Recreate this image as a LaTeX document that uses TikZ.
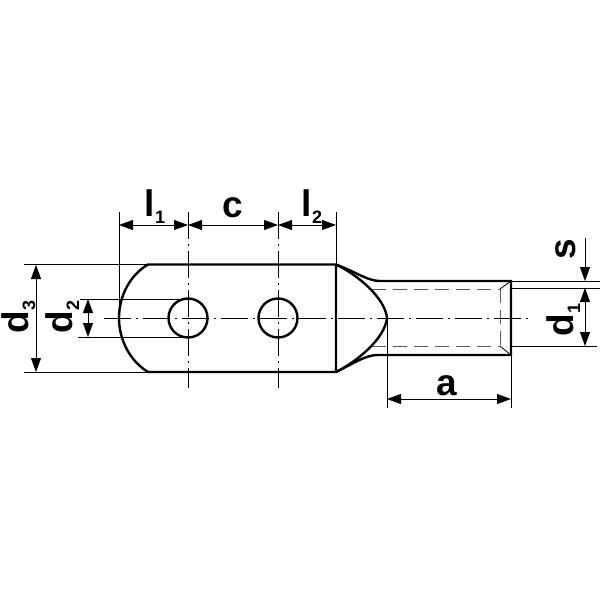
\documentclass[tikz,border=0pt]{standalone}
\usepackage{fontspec}
\setmainfont{Liberation Sans}
\usetikzlibrary{
    arrows.meta,
    calc
}
\newcommand{\lblsub}[1]{\raisebox{-7pt}{\fontsize{18}{18}\selectfont #1}}
\tikzset{
    outline/.style={line width=2.4pt, black},
    thinline/.style={line width=0.8pt, black},
    hidden/.style={line width=0.9pt, black!65, dash pattern=on 14pt off 7pt},
    axisline/.style={line width=0.7pt, black, dash pattern=on 27pt off 5pt on 2pt off 5pt},
    dimline/.style={line width=0.8pt, black, {Triangle[length=14pt,width=10pt]}-{Triangle[length=14pt,width=10pt]}},
    lbl/.style={inner sep=0pt, anchor=base, font=\fontsize{37}{37}\selectfont\bfseries}
}
\begin{document}
\begin{tikzpicture}[x=1pt, y=-1pt]
    \useasboundingbox (0, 0) rectangle (600, 600);

    % centre points
    \coordinate (h1) at (188, 318);
    \coordinate (h2) at (278, 318);
    \coordinate (tip) at (387, 318);

    % outline corners
    \coordinate (bodyTL) at (148, 264.5);
    \coordinate (bodyBL) at (148, 372);
    \coordinate (bodyTR) at (336, 264.5);
    \coordinate (bodyBR) at (336, 372);
    \coordinate (tubeTL) at (380, 281);
    \coordinate (tubeBL) at (378, 355);
    \coordinate (tubeTR) at (511, 281);
    \coordinate (tubeBR) at (511, 355);

    % bore
    \draw[hidden] (372, 289) -- (500, 289);
    \draw[hidden] (372, 346) -- (500, 346);
    \draw[hidden] (500, 289) -- (500, 346);
    \draw[thinline] (500, 289) -- (tubeTR);
    \draw[thinline] (500, 346) -- (tubeBR);

    % axes
    \draw[axisline] (104, 318) -- (528, 318);
    \draw[axisline] (188, 212) -- (188, 388);
    \draw[axisline] (278, 212) -- (278, 388);

    % extension lines
    \draw[thinline] (119, 212) -- (119, 318);
    \draw[thinline] (336, 212) -- (bodyTR);
    \draw[thinline] (24, 264.5) -- (bodyTL);
    \draw[thinline] (24, 372) -- (bodyBL);
    \draw[thinline] (80, 299) -- (188, 299);
    \draw[thinline] (78, 337) -- (188, 337);
    \draw[thinline] (tubeTR) -- (600, 281);
    \draw[thinline] (511, 288) -- (600, 288);
    \draw[thinline] (511, 346) -- (597, 346);
    \draw[thinline] (387, 318) -- (387, 408);
    \draw[thinline] (tubeBR) -- (511, 408);

    % body with the two holes
    \draw[outline] (bodyTR) -- (bodyTL)
        .. controls (130, 275) and (119, 296) .. (119, 318)
        .. controls (119, 340) and (130, 361) .. (bodyBL) -- (bodyBR) -- cycle;
    \node[circle, draw, outline, minimum size=39pt, inner sep=0pt] (hole1) at (h1) {};
    \node[circle, draw, outline, minimum size=39pt, inner sep=0pt] (hole2) at (h2) {};

    % dome and tube
    \draw[outline] (bodyTR) .. controls (358, 275) and (385, 298) .. (tip)
        .. controls (385, 338) and (358, 361) .. (bodyBR);
    \draw[outline] (bodyTR) .. controls (358, 273) and (368, 281) .. (tubeTL) -- (tubeTR)
        -- (tubeBR) -- (tubeBL) .. controls (366, 355) and (356, 362) .. (bodyBR);

    % dimensions
    \draw[dimline] (119, 225) -- (188, 225);
    \draw[dimline] (188, 225) -- (278, 225);
    \draw[dimline] (278, 225) -- (336, 225);
    \draw[dimline] (36, 265) -- (36, 372);
    \draw[dimline] (88, 299) -- (88, 337);
    \draw[dimline] (387, 399) -- (511, 399);
    \draw[dimline] (585, 288) -- (585, 346);
    \draw[dimline, {Triangle[length=14pt,width=10pt]}-] (585, 281) -- (585, 238);

    % labels
    \node[lbl] (l1) at (155, 216) {l\lblsub{1}};
    \node[lbl] (c) at (233, 217) {c};
    \node[lbl] (l2) at (312, 216) {l\lblsub{2}};
    \node[lbl, rotate=90] (d3) at (28, 317) {d\lblsub{3}};
    \node[lbl, rotate=90] (d2) at (72, 317) {d\lblsub{2}};
    \node[lbl, rotate=90] (s) at (575, 249) {s};
    \node[lbl, rotate=90] (d1) at (573, 320) {d\lblsub{1}};
    \node[lbl] (a) at (447, 395) {a};
\end{tikzpicture}
\end{document}
